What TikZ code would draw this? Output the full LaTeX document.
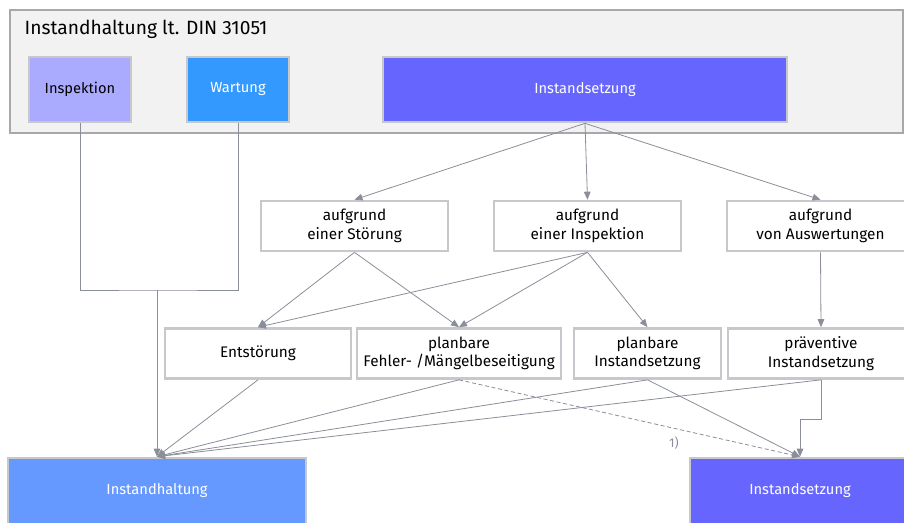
\documentclass[tikz,border=0pt]{standalone}
\usepackage{fontspec}
\setmainfont{Fira Sans}
\usetikzlibrary{arrows.meta,positioning}
\usepackage{xcolor}

\definecolor{framegray}{HTML}{A8A8AC}
\definecolor{panelgray}{HTML}{F2F2F2}
\definecolor{boxgray}{HTML}{C8C8CC}
\definecolor{linegray}{HTML}{8A8E98}
\definecolor{inspfill}{HTML}{AAAAFF}
\definecolor{wartfill}{HTML}{3399FF}
\definecolor{setzfill}{HTML}{6666FF}
\definecolor{haltfill}{HTML}{6699FF}

\begin{document}
\begin{tikzpicture}[
				x=0.75pt,y=-0.75pt,
				frame/.style={draw=framegray,line width=1pt,fill=panelgray,minimum width=669.75pt,minimum height=92.25pt},
				kind/.style={draw=boxgray,line width=2pt,minimum width=76.5pt,minimum height=48.75pt,font=\fontsize{11}{14}\selectfont,align=center},
				cause/.style={draw=boxgray,line width=2pt,fill=white,minimum width=140.25pt,minimum height=37.5pt,inner sep=1pt,font=\fontsize{11.5}{14}\selectfont,align=center},
				result/.style={kind,text=white,minimum height=49.5pt},
				link/.style={draw=linegray,line width=0.6pt,-{Triangle[length=6pt,width=5pt]}},
				wire/.style={draw=linegray,line width=0.6pt}
				]
				\useasboundingbox (0,0) rectangle (904,522);
				
				% DIN-Rahmen
				\node[frame] (din) at (456.5,71.5) {};
				\node[anchor=base west,font=\fontsize{14.4}{17}\selectfont] (title) at (20,34.3) {Instandhaltung lt. DIN 31051};
				\node[kind,fill=inspfill] (insp) at (80,89.5) {Inspektion};
				\node[kind,fill=wartfill,text=white] (wart) at (238,89.5) {Wartung};
				\node[kind,fill=setzfill,text=white,minimum width=303pt] (setz) at (585,89.5) {Instandsetzung};
				
				% Anlaesse
				\node[cause] (stoer) at (354.5,226) {aufgrund\\einer Störung};
				\node[cause] (inspek) at (587.5,226) {aufgrund\\einer Inspektion};
				\node[cause] (auswert) at (820.5,226) {aufgrund\\von Auswertungen};
				
				% Massnahmen
				\node[cause,minimum width=139.5pt] (entstoer) at (258,353.5) {Entstörung};
				\node[cause,minimum width=153pt] (fehler) at (459,353.5) {planbare\\Fehler- /Mängelbeseitigung};
				\node[cause,minimum width=110.25pt] (planbar) at (647.5,353.5) {planbare\\Instandsetzung};
				\node[cause,minimum width=139.5pt] (praevent) at (821,353.5) {präventive\\Instandsetzung};
				
				% Ergebnis
				\node[result,fill=haltfill,minimum width=223.5pt] (haltung) at (157,491) {Instandhaltung};
				\node[result,fill=setzfill,minimum width=165pt] (setzung) at (800,491) {Instandsetzung};
				
				% Instandsetzung verzweigt
				\draw[link] (setz.south) -- (stoer.north);
				\draw[link] (setz.south) -- (inspek.north);
				\draw[link] (setz.south) -- (auswert.north);
				
				% Anlass -> Massnahme
				\draw[link] (stoer.south) -- (entstoer.north);
				\draw[link] (stoer.south) -- (fehler.north);
				\draw[link] (inspek.south) -- (entstoer.north);
				\draw[link] (inspek.south) -- (fehler.north);
				\draw[link] (inspek.south) -- (planbar.north);
				\draw[link] (auswert.south) -- (praevent.north);
				
				% Inspektion und Wartung zusammengefasst
				\coordinate (merge) at (157,290);
				\draw[wire] (insp.south) |- (merge) -| (wart.south);
				\draw[link] (merge) -- (haltung.north);
				
				% Massnahme -> Instandhaltung
				\draw[link] (entstoer.south) -- (haltung.north);
				\draw[link] (fehler.south) -- (haltung.north);
				\draw[link] (planbar.south) -- (haltung.north);
				\draw[link] (praevent.south) -- (haltung.north);
				
				% Massnahme -> Instandsetzung
				\draw[link] (planbar.south) -- (setzung.north);
				\draw[link] (praevent.south) -- ++(0,40) -| (setzung.north);
				\draw[link,dashed,dash pattern=on 3pt off 2pt] (fehler.south) -- (setzung.north)
					node[pos=0.63,below=3pt,text=linegray,font=\fontsize{9.5}{10}\selectfont] (fn) {1)};
				
			\end{tikzpicture}
\end{document}
